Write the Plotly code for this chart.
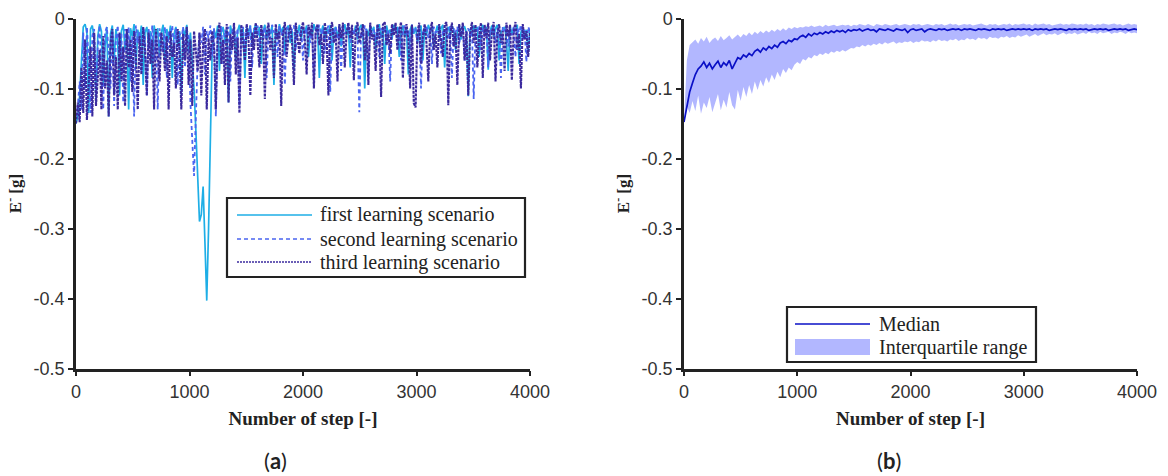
import plotly.graph_objects as go

# ---------------------------------------------------------------------------
# (a) three learning scenarios, E^- in milli-g (magnitude), one sample per 16 steps
# ---------------------------------------------------------------------------
STEP_A = 16

FIRST_MG = [
    150, 140, 110, 60, 12, 8, 20, 135, 15, 10, 30, 120, 25, 8, 18, 95, 40, 12, 140, 22, 10, 60, 15, 35, 110,
    18, 9, 45, 20, 130, 14, 25, 8, 70, 16, 30, 10, 95, 20, 12, 40, 18, 85, 10, 25, 14, 55, 20, 9, 65,
    15, 30, 10, 85, 22, 12, 40, 18, 110, 14, 25, 9, 50, 20, 60, 100, 160, 230, 290, 280, 240, 320, 403, 300, 150,
    45, 15, 28, 10, 75, 20, 12, 35, 16, 120, 10, 22, 14, 60, 18, 9, 30, 15, 85, 12, 20, 10, 40, 16, 8,
    25, 12, 65, 18, 9, 30, 14, 22, 10, 95, 16, 28, 8, 20, 12, 50, 15, 10, 35, 18, 75, 12, 22, 9, 30,
    14, 20, 10, 55, 16, 25, 8, 18, 12, 85, 20, 10, 30, 14, 22, 9, 60, 16, 12, 28, 10, 40, 18, 8, 24,
    12, 70, 16, 22, 10, 30, 14, 9, 20, 100, 15, 25, 10, 18, 12, 45, 20, 8, 28, 14, 65, 10, 22, 16, 30,
    9, 18, 12, 55, 20, 10, 26, 14, 80, 16, 9, 22, 12, 35, 18, 10, 60, 14, 24, 9, 18, 12, 40, 20, 10,
    28, 14, 9, 70, 18, 12, 24, 10, 16, 45, 20, 9, 30, 14, 12, 20, 111, 15, 25, 10, 18, 12, 55, 16, 9,
    22, 12, 73, 18, 10, 26, 14, 9, 60, 20, 16, 12, 30, 75, 10, 22, 14, 18, 9, 65, 20, 12, 28, 16, 50,
    15,
]

SECOND_MG = [
    140, 125, 90, 130, 20, 100, 12, 60, 135, 25, 15, 110, 40, 10, 80, 130, 20, 12, 50, 100, 18, 125, 30, 10, 70,
    20, 120, 15, 45, 12, 90, 25, 140, 10, 35, 18, 75, 12, 28, 110, 15, 40, 10, 60, 20, 130, 14, 30, 50, 12,
    85, 18, 25, 10, 45, 14, 95, 20, 30, 12, 70, 16, 25, 120, 180, 225, 140, 60, 20, 35, 12, 80, 18, 28, 10,
    55, 14, 140, 20, 30, 10, 65, 16, 25, 12, 90, 18, 10, 35, 14, 125, 20, 12, 45, 16, 28, 10, 70, 14, 22,
    10, 40, 16, 25, 12, 85, 18, 30, 9, 20, 14, 55, 10, 24, 16, 95, 12, 20, 30, 14, 10, 45, 18, 25, 12,
    60, 14, 22, 10, 35, 16, 90, 12, 20, 9, 28, 14, 50, 18, 10, 105, 16, 24, 12, 30, 10, 75, 14, 22, 18,
    10, 35, 16, 24, 12, 20, 134, 14, 28, 10, 18, 80, 12, 22, 16, 30, 9, 55, 14, 20, 12, 38, 16, 90, 10,
    22, 14, 30, 12, 60, 18, 10, 25, 16, 45, 9, 20, 14, 35, 12, 100, 16, 22, 10, 28, 14, 65, 12, 20, 18,
    10, 50, 16, 24, 12, 30, 9, 85, 14, 20, 12, 38, 16, 10, 60, 22, 14, 28, 12, 115, 16, 20, 10, 45, 14,
    24, 12, 70, 16, 20, 10, 35, 14, 22, 85, 12, 18, 10, 40, 16, 24, 12, 55, 14, 20, 9, 30, 16, 62, 12,
    18,
]

THIRD_MG = [
    150, 120, 148, 70, 135, 30, 145, 100, 40, 140, 20, 125, 80, 45, 130, 25, 100, 60, 140, 35, 15, 110, 55, 130, 20,
    90, 40, 125, 15, 70, 30, 105, 18, 55, 130, 25, 80, 12, 45, 110, 20, 65, 30, 130, 15, 50, 90, 20, 40, 75,
    25, 130, 18, 55, 35, 100, 15, 45, 130, 22, 60, 12, 95, 30, 125, 18, 50, 75, 20, 110, 35, 15, 130, 28, 60,
    18, 40, 130, 25, 6, 65, 30, 95, 8, 120, 22, 45, 6, 80, 28, 135, 9, 35, 60, 8, 30, 110, 20, 45, 6,
    35, 70, 9, 25, 115, 20, 6, 45, 28, 85, 8, 30, 18, 125, 22, 5, 55, 24, 9, 35, 95, 6, 28, 50, 18,
    5, 30, 80, 9, 24, 6, 100, 20, 8, 38, 22, 65, 6, 26, 110, 18, 5, 35, 20, 90, 8, 28, 6, 70, 20,
    6, 28, 9, 88, 20, 5, 35, 24, 8, 60, 18, 95, 6, 30, 22, 75, 8, 20, 112, 9, 5, 38, 22, 50, 8,
    24, 6, 45, 18, 5, 85, 22, 8, 30, 100, 9, 121, 127, 20, 6, 65, 26, 8, 35, 90, 18, 5, 45, 22, 70,
    8, 28, 55, 9, 5, 124, 24, 6, 40, 20, 95, 8, 26, 6, 60, 18, 110, 22, 5, 35, 9, 70, 24, 6, 85,
    9, 28, 6, 60, 20, 5, 90, 24, 8, 35, 18, 75, 6, 26, 9, 88, 20, 5, 45, 22, 100, 8, 30, 18, 55,
    20,
]

# ---------------------------------------------------------------------------
# (b) median and interquartile range, milli-g magnitude, one sample per 25 steps
# ---------------------------------------------------------------------------
STEP_B = 25

MEDIAN_MG = [
    148, 125, 105, 92, 80, 72, 68, 62, 70, 64, 72, 66, 61, 70, 63, 67, 60, 72, 64, 56,
    58, 52, 55, 50, 53, 47, 44, 48, 42, 45, 40, 43, 38, 41, 35, 33, 36, 31, 33, 29,
    30, 26, 24, 27, 22, 25, 21, 23, 20, 22, 19, 21, 18, 20, 17, 19, 17, 20, 16, 18,
    16,
    17, 15, 18, 16, 15, 17, 16, 19, 15, 16, 17, 15, 16, 18, 15, 16, 17, 15, 20, 16,
    15, 17, 16, 15, 19, 16, 15, 16, 17, 15, 16, 15, 17, 16, 15, 16, 15, 17, 15, 16,
    15, 16, 17, 15, 16, 15, 16, 17, 15, 16, 15, 16, 15, 17, 16, 15, 16, 15, 16, 15,
    16, 15, 17, 15, 16, 15, 16, 15, 17, 16, 15, 16, 15, 16, 17, 15, 16, 15, 16, 15,
    16, 15, 17, 16, 15, 16, 15, 16, 15, 17, 16, 15, 16, 15, 16, 15, 17, 16, 15, 16,
]

Q3_MG = [
    148, 60, 38, 34, 30, 36, 28, 33, 26, 35, 30, 27, 32, 25, 31, 28, 24, 30, 26, 23,
    27, 22, 25, 20, 24, 19, 22, 18, 21, 17, 20, 16, 19, 15, 18, 14, 17, 13, 15, 12,
    14, 12, 13, 11, 12, 10, 12, 11, 10, 12, 9, 11, 10, 9, 11, 10, 9, 10, 9, 11,
    9, 10, 8, 9, 10, 8, 9, 11, 8, 9, 10, 8, 9, 10, 9, 8, 10, 9, 8, 9,
    10, 8, 9, 8, 10, 9, 8, 9, 10, 8, 9, 8, 10, 9, 7, 9, 8, 10, 9, 8,
    9, 8, 10, 9, 8, 7, 9, 10, 8, 9, 8, 10, 9, 8, 9, 7, 10, 8, 9, 8,
    7, 9, 8, 10, 7, 9, 8, 7, 9, 8, 10, 9, 8, 7, 9, 8, 9, 7, 8, 9,
    8, 9, 7, 9, 8, 10, 8, 9, 7, 8, 9, 8, 7, 9, 8, 10, 8, 7, 9, 8, 9,
]

Q1_MG = [
    148, 125, 135, 118, 132, 110, 136, 120, 128, 112, 134, 122, 108, 131, 116, 127, 105, 124, 130, 102,
    118, 98, 112, 95, 108, 90, 102, 88, 97, 84, 92, 80, 88, 76, 84, 72, 78, 70, 74, 66,
    62, 65, 58, 60, 55, 57, 52, 54, 50, 52, 49, 51, 47, 49, 46, 48, 45, 47, 44, 42,
    43, 40, 41, 38, 40, 37, 39, 36, 38, 35, 37, 34, 36, 35, 33, 36, 34, 35, 33, 34,
    32, 35, 33, 34, 31, 33, 32, 34, 31, 33, 30, 32, 31, 33, 30, 31, 29, 32, 30, 31,
    28, 30, 29, 31, 27, 29, 28, 30, 26, 28, 27, 29, 26, 27, 25, 28, 26, 27, 24, 26,
    25, 23, 26, 24, 22, 25, 23, 21, 24, 22, 23, 21, 24, 22, 20, 23, 21, 22, 20, 23,
    21, 20, 22, 19, 21, 20, 22, 19, 21, 20, 19, 22, 20, 21, 19, 20, 22, 19, 21, 20, 21,
]

X_TICKS = [0, 1000, 2000, 3000, 4000]
Y_TICKS = [0, -0.1, -0.2, -0.3, -0.4, -0.5]
Y_TICK_TEXT = ["0", "-0.1", "-0.2", "-0.3", "-0.4", "-0.5"]

SCENARIO_NAMES = ["first learning scenario", "second learning scenario", "third learning scenario"]
BAND_NAMES = ["Median", "Interquartile range"]


def to_g(values_mg):
    return [-v / 1000.0 for v in values_mg]


steps_a = list(range(0, STEP_A * len(FIRST_MG), STEP_A))
steps_b = list(range(0, STEP_B * len(MEDIAN_MG), STEP_B))

W, H = 1168, 476
SERIF = "Liberation Serif, Times New Roman, serif"
SANS = "Liberation Sans, Arial, sans-serif"
INK = "#222222"
BAND_FILL = "rgba(165,170,255,0.85)"
MEDIAN_COLOR = "#0a10c6"
SCENARIO_COLORS = ["#1eaee6", "#4a64f0", "#3b2a9e"]
SCENARIO_DASHES = ["solid", "4px,3px", "2px,1px"]


def px(x):
    return x / W


def py(y):
    return 1 - y / H


fig = go.Figure()

# panel (a): raw scenario traces (dense, slightly heavier strokes)
trace_widths = [1.7, 1.8, 2.1]
trace_dashes = ["solid", "4px,3px", "3px,1px"]
for name, vals, color, width, dash in zip(SCENARIO_NAMES, [FIRST_MG, SECOND_MG, THIRD_MG],
                                          SCENARIO_COLORS, trace_widths, trace_dashes):
    fig.add_trace(go.Scatter(
        x=steps_a, y=to_g(vals), mode="lines", name=name,
        line=dict(color=color, width=width, dash=dash),
        xaxis="x", yaxis="y", showlegend=False,
    ))

# panel (b): interquartile band and median
fig.add_trace(go.Scatter(
    x=steps_b, y=to_g(Q3_MG), mode="lines", line=dict(width=0, color="rgba(0,0,0,0)"),
    showlegend=False, hoverinfo="skip", xaxis="x2", yaxis="y2",
))
fig.add_trace(go.Scatter(
    x=steps_b, y=to_g(Q1_MG), mode="lines", line=dict(width=0, color="rgba(0,0,0,0)"),
    fill="tonexty", fillcolor=BAND_FILL, name=BAND_NAMES[1],
    xaxis="x2", yaxis="y2", showlegend=False,
))
fig.add_trace(go.Scatter(
    x=steps_b, y=to_g(MEDIAN_MG), mode="lines", line=dict(color=MEDIAN_COLOR, width=1.7),
    name=BAND_NAMES[0], xaxis="x2", yaxis="y2", showlegend=False,
))

x_dom_a = [px(76), px(530)]
x_dom_b = [px(684), px(1137)]
y_dom = [py(368.5), py(18.5)]

axis_common = dict(
    showline=True, linecolor=INK, linewidth=2.5, mirror=False,
    ticks="outside", ticklen=5, tickwidth=2, tickcolor=INK,
    showgrid=False, zeroline=False, automargin=False,
    tickfont=dict(family=SANS, size=18, color="#333333"),
)
x_common = dict(axis_common, range=[0, 4000], tickvals=X_TICKS,
                title=dict(text="<b>Number of step [-]</b>",
                           font=dict(family=SERIF, size=19, color=INK), standoff=11))
y_common = dict(axis_common, range=[-0.5, 0], tickvals=Y_TICKS, ticktext=Y_TICK_TEXT,
                title=dict(text="<b>E<sup>-</sup> [g]</b>",
                           font=dict(family=SERIF, size=17, color=INK), standoff=8))

# legend boxes (drawn as shapes + text)
shapes = []
annotations = []
LEG_FONT = dict(family=SERIF, size=20, color=INK)

# legend of panel (a)
shapes.append(dict(type="rect", xref="paper", yref="paper",
                   x0=px(227), x1=px(525), y0=py(277), y1=py(198),
                   line=dict(color=INK, width=2.2), fillcolor="white", layer="above"))
for row_y, name, color, dash in zip([215, 239, 262], SCENARIO_NAMES, SCENARIO_COLORS, SCENARIO_DASHES):
    shapes.append(dict(type="line", xref="paper", yref="paper",
                       x0=px(237), x1=px(312), y0=py(row_y), y1=py(row_y),
                       line=dict(color=color, width=1.5, dash=dash), layer="above"))
    annotations.append(dict(text=name, x=px(318), y=py(row_y), xref="paper", yref="paper",
                            xanchor="left", yanchor="middle", showarrow=False, font=LEG_FONT))

# legend of panel (b)
shapes.append(dict(type="rect", xref="paper", yref="paper",
                   x0=px(787), x1=px(1036), y0=py(362), y1=py(307),
                   line=dict(color=INK, width=2.2), fillcolor="white", layer="above"))
shapes.append(dict(type="line", xref="paper", yref="paper",
                   x0=px(795), x1=px(870), y0=py(324), y1=py(324),
                   line=dict(color=MEDIAN_COLOR, width=1.6), layer="above"))
shapes.append(dict(type="rect", xref="paper", yref="paper",
                   x0=px(795), x1=px(870), y0=py(355), y1=py(339),
                   line=dict(width=0), fillcolor=BAND_FILL, layer="above"))
for row_y, name in zip([324, 347], BAND_NAMES):
    annotations.append(dict(text=name, x=px(877), y=py(row_y), xref="paper", yref="paper",
                            xanchor="left", yanchor="middle", showarrow=False, font=LEG_FONT))

# panel captions
for cx, label in [(275, "(<b>a</b>)"), (889, "(<b>b</b>)")]:
    annotations.append(dict(text=label, x=px(cx), y=py(460), xref="paper", yref="paper",
                            xanchor="center", yanchor="middle", showarrow=False,
                            font=dict(family="Lato, Noto Sans, sans-serif", size=22, color=INK)))

fig.update_layout(
    width=W, height=H, autosize=False,
    margin=dict(l=0, r=0, t=0, b=0),
    paper_bgcolor="white", plot_bgcolor="white",
    showlegend=False,
    xaxis=dict(x_common, domain=x_dom_a, anchor="y"),
    yaxis=dict(y_common, domain=y_dom, anchor="x"),
    xaxis2=dict(x_common, domain=x_dom_b, anchor="y2"),
    yaxis2=dict(y_common, domain=y_dom, anchor="x2"),
    shapes=shapes,
    annotations=annotations,
)

fig.write_html("out.html")
